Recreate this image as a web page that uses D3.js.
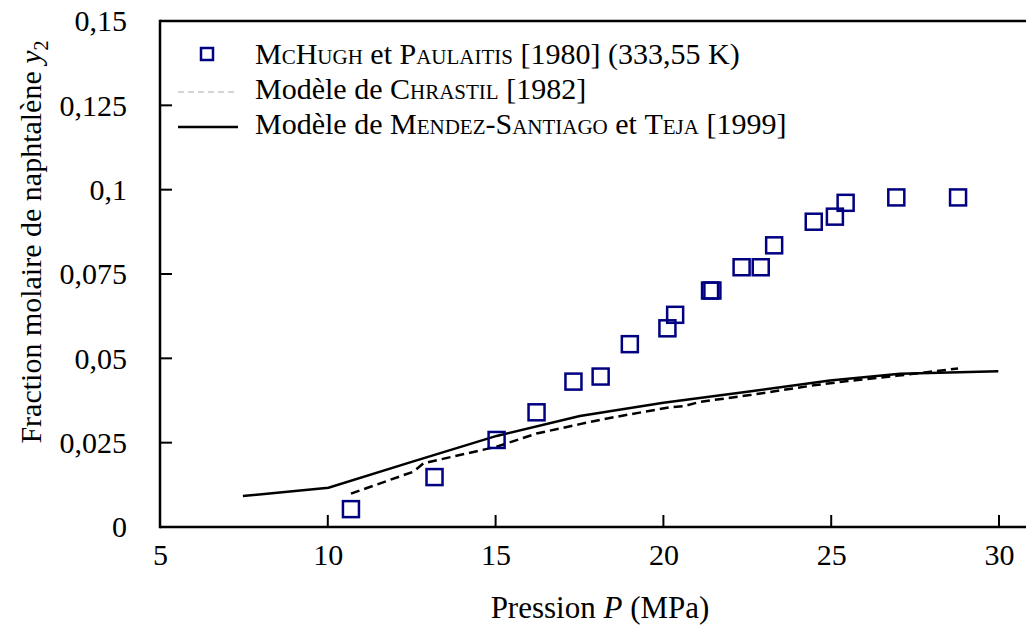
<!DOCTYPE html>
<html>
<head>
<meta charset="utf-8">
<script src="https://cdn.jsdelivr.net/npm/d3@7"></script>
<style>
  html, body { margin: 0; padding: 0; background: #fff; }
  svg { display: block; font-family: "Liberation Serif", "Times New Roman", serif; }
  text { font-family: "Liberation Serif", "Times New Roman", serif; }
</style>
</head>
<body>
<svg id="chart" width="1026" height="629"></svg>
<script>
// Experimental data: McHugh et Paulaitis [1980] (333,55 K)
const expPressure = [10.69, 13.18, 15.03, 16.22, 17.32, 18.13, 19.0, 20.12, 20.35, 21.39, 21.46, 22.33, 22.9, 23.3, 24.48, 25.11, 25.43, 26.94, 28.78];
const expFraction = [0.0053, 0.0148, 0.0258, 0.0340, 0.0431, 0.0446, 0.0542, 0.0589, 0.0629, 0.0701, 0.0701, 0.0770, 0.0770, 0.0835, 0.0905, 0.0920, 0.0961, 0.0977, 0.0977];

// Modèle de Chrastil [1982]
const chrastilPressure = [10.69, 12.55, 12.85, 15.03, 16.22, 17.51, 18.13, 19.0, 20.2, 20.6, 21.09, 22.58, 23.56, 24.48, 25.11, 25.43, 26.94, 28.78];
const chrastilFraction = [0.0099, 0.0164, 0.0189, 0.0238, 0.0277, 0.0305, 0.0318, 0.0334, 0.0355, 0.0358, 0.0371, 0.0391, 0.0406, 0.0420, 0.0428, 0.0432, 0.0448, 0.0470];

// Modèle de Mendez-Santiago et Teja [1999]
const mstPressure = [7.47, 10.02, 12.5, 15.03, 17.51, 20.0, 22.5, 24.96, 27.05, 29.98];
const mstFraction = [0.0092, 0.01165, 0.0193, 0.0270, 0.0329, 0.0368, 0.0401, 0.0434, 0.0454, 0.0462];

const xTicks = [5, 10, 15, 20, 25, 30];
const xTickLabels = ["5", "10", "15", "20", "25", "30"];
const yTicks = [0, 0.025, 0.05, 0.075, 0.1, 0.125, 0.15];
const yTickLabels = ["0", "0,025", "0,05", "0,075", "0,1", "0,125", "0,15"];

const svg = d3.select("#chart");
const W = 1026;
const plotLeft = 160, plotTop = 21, plotBottom = 527, xEnd = 999;
const serif = "Liberation Serif";

const x = d3.scaleLinear().domain([5, 30]).range([plotLeft, xEnd]);
const y = d3.scaleLinear().domain([0, 0.15]).range([plotBottom, plotTop]);

const fontSize = 30;
const axisColor = "#000";

// Frame lines
svg.append("line").attr("x1", plotLeft).attr("x2", W).attr("y1", plotTop).attr("y2", plotTop)
  .attr("stroke", axisColor).attr("stroke-width", 2.5);
svg.append("line").attr("x1", plotLeft).attr("x2", plotLeft).attr("y1", plotTop - 1.25).attr("y2", plotBottom + 1.25)
  .attr("stroke", axisColor).attr("stroke-width", 2.5);

// Axes via d3 axes
const xAxis = d3.axisBottom(x)
  .tickValues(xTicks)
  .tickSize(0)
  .tickPadding(0)
  .tickFormat((d, i) => xTickLabels[i]);
const gx = svg.append("g").attr("transform", `translate(0,${plotBottom})`).call(xAxis)
  .attr("font-family", serif);
gx.select(".domain").remove();
gx.selectAll("text").attr("font-size", fontSize).attr("font-family", serif).attr("fill", "#000")
  .attr("dy", 0).attr("y", 38);

svg.append("line").attr("x1", plotLeft).attr("x2", W).attr("y1", plotBottom).attr("y2", plotBottom)
  .attr("stroke", axisColor).attr("stroke-width", 2.5);

// x tick marks (inward, skip first)
svg.append("g").selectAll("line").data(xTicks.slice(1)).join("line")
  .attr("x1", d => x(d)).attr("x2", d => x(d))
  .attr("y1", plotBottom).attr("y2", plotBottom - 12)
  .attr("stroke", axisColor).attr("stroke-width", 2);

const yAxis = d3.axisLeft(y)
  .tickValues(yTicks)
  .tickSize(0)
  .tickPadding(33)
  .tickFormat((d, i) => yTickLabels[i]);
const gy = svg.append("g").attr("transform", `translate(${plotLeft},0)`).call(yAxis)
  .attr("font-family", serif);
gy.select(".domain").remove();
gy.selectAll("text").attr("font-size", fontSize).attr("font-family", serif).attr("fill", "#000")
  .attr("dy", "0.33em");

// y tick marks (inward, skip 0 and top)
svg.append("g").selectAll("line").data(yTicks.slice(1, -1)).join("line")
  .attr("x1", plotLeft).attr("x2", plotLeft + 12)
  .attr("y1", d => y(d)).attr("y2", d => y(d))
  .attr("stroke", axisColor).attr("stroke-width", 2);

// Lines
const line = d3.line().x(d => x(d[0])).y(d => y(d[1]));
const mstData = mstPressure.map((p, i) => [p, mstFraction[i]]);
const chrData = chrastilPressure.map((p, i) => [p, chrastilFraction[i]]);

svg.append("path").datum(mstData).attr("d", line)
  .attr("fill", "none").attr("stroke", "#000").attr("stroke-width", 2.5);
svg.append("path").datum(chrData).attr("d", line)
  .attr("fill", "none").attr("stroke", "#000").attr("stroke-width", 2.5)
  .attr("stroke-dasharray", "9,5");

// Experimental squares
const sq = 16;
svg.append("g").selectAll("rect").data(expPressure.map((p, i) => [p, expFraction[i]])).join("rect")
  .attr("x", d => x(d[0]) - sq / 2).attr("y", d => y(d[1]) - sq / 2)
  .attr("width", sq).attr("height", sq)
  .attr("fill", "none").attr("stroke", "#000080").attr("stroke-width", 2.5);

// Legend
const lg = svg.append("g");
const lx = 255;
const legendSize = 30;
lg.append("rect").attr("x", 201).attr("y", 48).attr("width", 12).attr("height", 12)
  .attr("fill", "none").attr("stroke", "#000080").attr("stroke-width", 2.5);
lg.append("line").attr("x1", 178).attr("x2", 238).attr("y1", 92).attr("y2", 92)
  .attr("stroke", "#aaa").attr("stroke-width", 1).attr("stroke-dasharray", "6,4");
lg.append("line").attr("x1", 178).attr("x2", 238).attr("y1", 127).attr("y2", 127)
  .attr("stroke", "#000").attr("stroke-width", 2.5);

function legendText(yy, parts) {
  const t = lg.append("text").attr("x", lx).attr("y", yy).attr("font-size", legendSize)
    .attr("font-family", serif).attr("fill", "#000");
  parts.forEach(p => {
    const ts = t.append("tspan").text(p.t);
    if (p.sc) ts.style("font-variant", "small-caps");
  });
}
legendText(64, [{t: "McHugh", sc: true}, {t: " et "}, {t: "Paulaitis", sc: true}, {t: " [1980] (333,55 K)"}]);
legendText(99, [{t: "Modèle de "}, {t: "Chrastil", sc: true}, {t: " [1982]"}]);
legendText(134, [{t: "Modèle de "}, {t: "Mendez-Santiago", sc: true}, {t: " et "}, {t: "Teja", sc: true}, {t: " [1999]"}]);

// Axis titles
const xt = svg.append("text").attr("x", 600).attr("y", 618).attr("text-anchor", "middle")
  .attr("font-size", 31).attr("font-family", serif).attr("fill", "#000");
xt.append("tspan").text("Pression ");
xt.append("tspan").attr("font-style", "italic").text("P");
xt.append("tspan").text(" (MPa)");

const yt = svg.append("text").attr("transform", "translate(41,242) rotate(-90)").attr("text-anchor", "middle")
  .attr("font-size", fontSize).attr("font-family", serif).attr("fill", "#000");
yt.append("tspan").text("Fraction molaire de naphtalène ");
yt.append("tspan").attr("font-style", "italic").text("y");
yt.append("tspan").attr("font-size", 20).attr("dy", 7).text("2");
</script>
</body>
</html>
